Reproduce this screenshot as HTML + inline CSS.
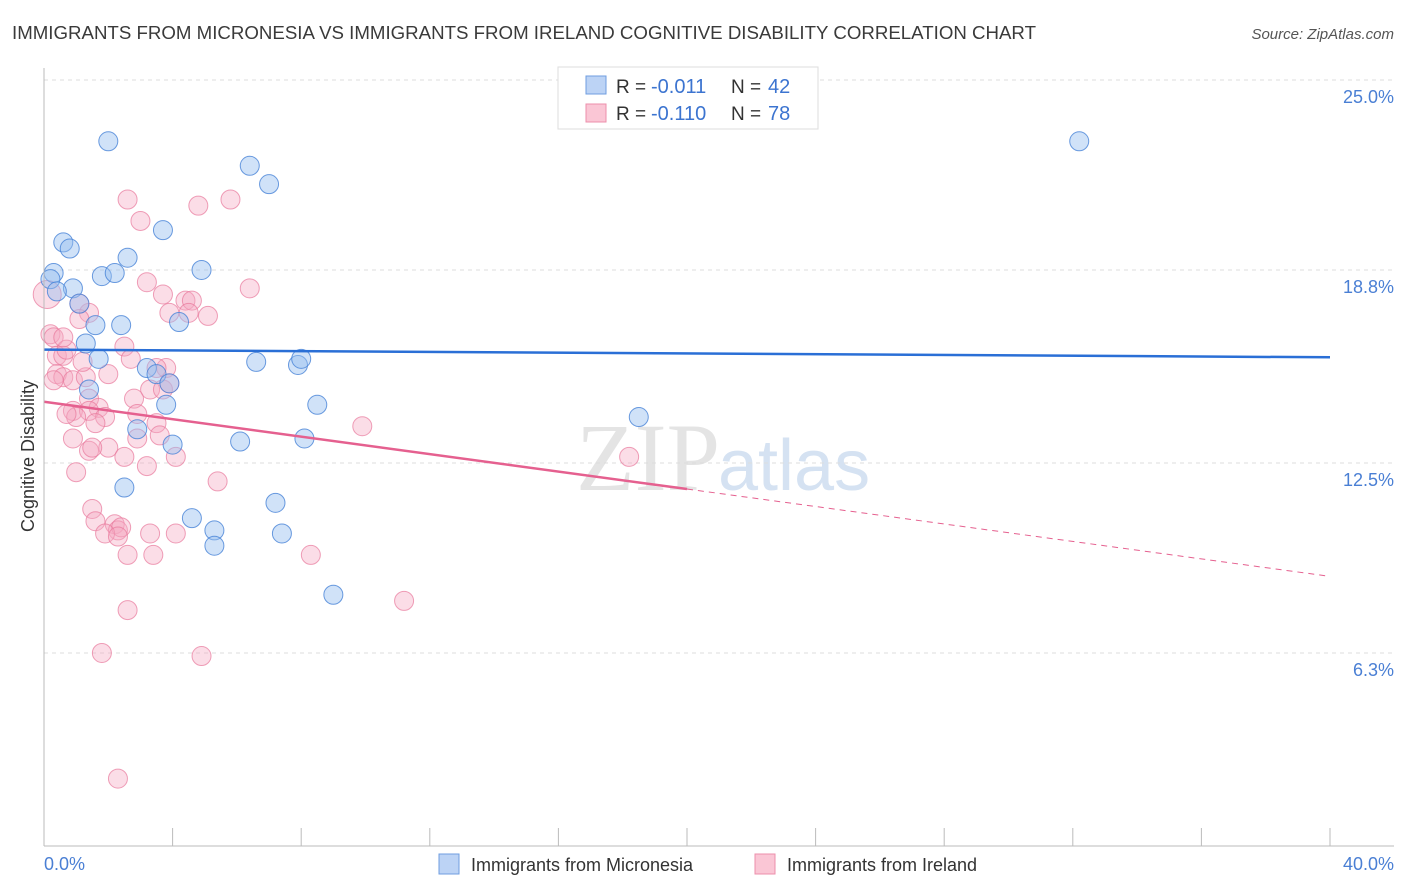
<!DOCTYPE html>
<html><head><meta charset="utf-8"><style>
body{margin:0;background:#fff;font-family:"Liberation Sans",sans-serif;}
svg{display:block}
</style></head><body>
<svg id="chart" width="1406" height="892">
<text x="12" y="39" font-size="18" fill="#3a3a3a" textLength="1024" lengthAdjust="spacingAndGlyphs">IMMIGRANTS FROM MICRONESIA VS IMMIGRANTS FROM IRELAND COGNITIVE DISABILITY CORRELATION CHART</text>
<text x="1394" y="39" font-size="15" fill="#555" font-style="italic" text-anchor="end">Source: ZipAtlas.com</text>
<text x="720" y="490" font-size="96" fill="#e4e4e4" text-anchor="end" font-family="Liberation Serif,serif">ZIP</text>
<text x="718" y="490" font-size="72" fill="#d5e2f2">atlas</text>
<g id="grid"></g><g id="pts"></g><g id="lines"></g>
<line x1="44" y1="68" x2="44" y2="846" stroke="#bbb"/>
<line x1="44" y1="846" x2="1394" y2="846" stroke="#bbb"/>
<text x="34" y="456" font-size="18" fill="#333" text-anchor="middle" transform="rotate(-90 34 456)">Cognitive Disability</text>
<text x="44" y="870" font-size="18" fill="#4a7fd4">0.0%</text>
<text x="1394" y="870" font-size="18" fill="#4a7fd4" text-anchor="end">40.0%</text>
<g>
<rect x="558" y="67" width="260" height="62" fill="#fff" stroke="#ddd"/>
<rect x="586" y="76" width="20" height="18" fill="#bcd3f5" stroke="#6f9ee0"/>
<rect x="586" y="104" width="20" height="18" fill="#fac6d5" stroke="#ec8fab"/>
<text x="616" y="93" font-size="19" fill="#333">R =</text>
<text x="651" y="93" font-size="20" fill="#3c74d0">-0.011</text>
<text x="731" y="93" font-size="19" fill="#333">N =</text>
<text x="768" y="93" font-size="20" fill="#3c74d0">42</text>
<text x="616" y="120" font-size="19" fill="#333">R =</text>
<text x="651" y="120" font-size="20" fill="#3c74d0">-0.110</text>
<text x="731" y="120" font-size="19" fill="#333">N =</text>
<text x="768" y="120" font-size="20" fill="#3c74d0">78</text>
</g>
<g>
<rect x="439" y="854" width="20" height="20" fill="#bcd3f5" stroke="#6f9ee0"/>
<text x="471" y="871" font-size="18" fill="#333">Immigrants from Micronesia</text>
<rect x="755" y="854" width="20" height="20" fill="#fac6d5" stroke="#ec8fab"/>
<text x="787" y="871" font-size="18" fill="#333">Immigrants from Ireland</text>
</g>
</svg>
<script>
const yTicks=[25.0,18.8,12.5,6.3];
const yTickLabels=["25.0%","18.8%","12.5%","6.3%"];
const blueX=[2.0,6.4,7.0,3.7,0.6,0.8,2.6,4.9,0.3,1.8,2.2,0.2,0.9,0.4,1.1,1.6,2.4,4.2,1.3,1.7,6.6,7.9,8.0,3.2,3.5,3.9,1.4,3.8,8.5,18.5,2.9,4.0,6.1,8.1,2.5,4.6,7.2,5.3,5.3,7.4,9.0,32.2];
const blueY=[23.0,22.2,21.6,20.1,19.7,19.5,19.2,18.8,18.7,18.6,18.7,18.5,18.2,18.1,17.7,17.0,17.0,17.1,16.4,15.9,15.8,15.7,15.9,15.6,15.4,15.1,14.9,14.4,14.4,14.0,13.6,13.1,13.2,13.3,11.7,10.7,11.2,10.3,9.8,10.2,8.2,23.0];
const pinkX=[2.6,3.0,4.8,5.8,6.4,3.2,3.7,4.4,4.6,3.9,4.5,5.1,1.4,1.1,0.1,0.2,0.3,0.4,0.6,0.7,0.4,0.6,0.3,0.9,1.3,1.2,2.5,2.7,2.0,3.8,3.5,3.3,3.7,3.9,1.4,1.7,0.9,1.4,1.9,1.6,1.0,0.7,2.8,2.9,3.5,2.9,3.6,0.9,1.4,2.0,1.5,2.5,4.1,3.2,1.0,5.4,9.9,18.2,1.5,1.6,2.2,2.3,2.4,1.9,2.3,3.3,4.1,2.6,3.4,8.3,11.2,2.6,1.8,4.9,2.3,1.1,0.6];
const pinkY=[21.1,20.4,20.9,21.1,18.2,18.4,18.0,17.8,17.8,17.4,17.4,17.3,17.4,17.2,18.0,16.7,16.6,16.0,16.0,16.2,15.4,15.3,15.2,15.2,15.3,15.8,16.3,15.9,15.4,15.6,15.6,14.9,14.9,15.1,14.6,14.3,14.2,14.2,14.0,13.8,14.0,14.1,14.6,14.1,13.8,13.3,13.4,13.3,12.9,13.0,13.0,12.7,12.7,12.4,12.2,11.9,13.7,12.7,11.0,10.6,10.5,10.3,10.4,10.2,10.1,10.2,10.2,9.5,9.5,9.5,8.0,7.7,6.3,6.2,2.2,17.7,16.6];
const X=v=>44+v/40*1286, Y=v=>80+(25-v)*30.64;
const NS="http://www.w3.org/2000/svg";
function mk(tag,at,parent){const e=document.createElementNS(NS,tag);for(const k in at)e.setAttribute(k,at[k]);document.getElementById(parent).appendChild(e);return e;}
yTicks.forEach((t,i)=>{
 const l=mk('line',{x1:44,x2:1394,y1:Y(t),y2:Y(t),stroke:'#ddd','stroke-dasharray':'4,4'},'grid');
 
 
 const tx=mk('text',{x:1394,y:Y(t)+23,'font-size':18,fill:'#4a7fd4','text-anchor':'end'},'grid');
 tx.textContent=yTickLabels[i];
 
 
});
for(let i=1;i<=10;i++){const l=mk('line',{x1:X(i*4),x2:X(i*4),y1:828,y2:846,stroke:'#bbb'},'grid');
 
 }
pinkX.forEach((v,i)=>{const c=mk('circle',{cx:X(v),cy:Y(pinkY[i]),r:i==14?14:9.5,fill:'rgba(246,170,195,0.4)',stroke:'rgba(232,120,155,0.7)','stroke-width':1},'pts');
 
 });
blueX.forEach((v,i)=>{const c=mk('circle',{cx:X(v),cy:Y(blueY[i]),r:9.5,fill:'rgba(150,190,240,0.45)',stroke:'rgba(70,130,215,0.8)','stroke-width':1},'pts');
 
 });
let l=mk('line',{x1:X(0),y1:Y(16.2),x2:X(40),y2:Y(15.95),stroke:'#2a6fd6','stroke-width':2.5},'lines');


l=mk('line',{x1:X(0),y1:Y(14.5),x2:X(20),y2:Y(11.65),stroke:'#e5608f','stroke-width':2.5},'lines');


l=mk('line',{x1:X(20),y1:Y(11.65),x2:X(40),y2:Y(8.8),stroke:'#e5608f','stroke-width':1,'stroke-dasharray':'6,5'},'lines');


</script>
</body></html>
